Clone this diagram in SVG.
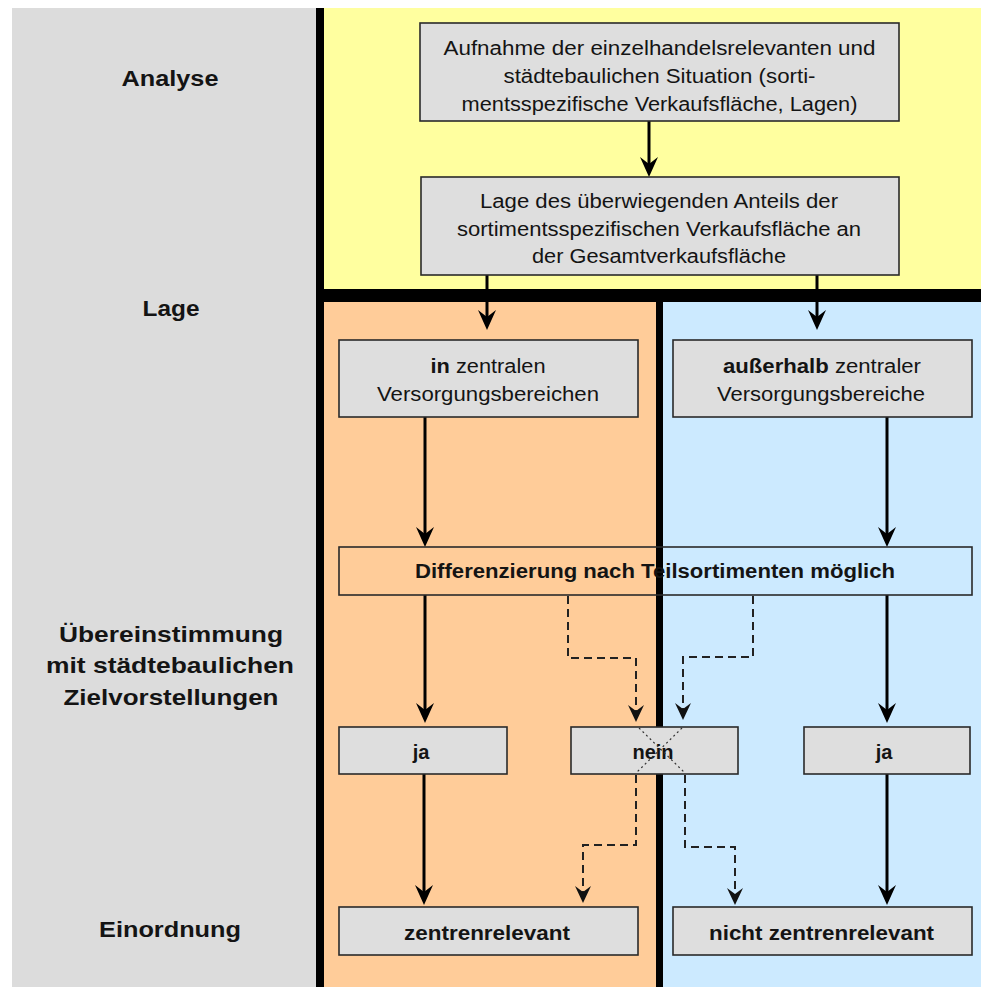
<svg xmlns="http://www.w3.org/2000/svg" width="981" height="987" viewBox="0 0 981 987">
<style>
.bx{fill:#dedede;stroke:#2a2a2a;stroke-width:1.6}
.bo{fill:none;stroke:#2a2a2a;stroke-width:1.6}
.t{font-family:"Liberation Sans",Arial,sans-serif;font-size:20px;fill:#141414;text-anchor:middle}
.b{font-weight:bold}
.lbl{font-family:"Liberation Sans",Arial,sans-serif;font-size:22px;font-weight:bold;fill:#141414;text-anchor:middle}
.s{stroke:#000;stroke-width:3;fill:none;marker-end:url(#ah)}
.d{stroke:#222;stroke-width:2;fill:none;stroke-dasharray:8 5;marker-end:url(#ahd)}
.x{stroke:#333;stroke-width:1.2;fill:none;stroke-dasharray:2 3}
</style>
<defs>
<marker id="ah" markerUnits="userSpaceOnUse" markerWidth="24" markerHeight="24" viewBox="-16 -12 24 24" refX="0" refY="0" orient="auto">
<path d="M6,0 L-14,-9 L-7,0 L-14,9 Z" fill="#000"/>
</marker>
<marker id="ahd" markerUnits="userSpaceOnUse" markerWidth="24" markerHeight="24" viewBox="-16 -12 24 24" refX="0" refY="0" orient="auto">
<path d="M5,0 L-12,-8 L-6,0 L-12,8 Z" fill="#111"/>
</marker>
</defs>

<g id="background">
<rect x="12" y="8" width="304" height="979" fill="#dcdcdc"/>
<rect x="324" y="8" width="657" height="282" fill="#ffff9f"/>
<rect x="324" y="302" width="332" height="685" fill="#ffcc99"/>
<rect x="662" y="302" width="319" height="685" fill="#cceaff"/>
<rect x="316" y="8" width="8" height="979" fill="#000"/>
<rect x="316" y="289" width="665" height="13" fill="#000"/>
<rect x="656" y="302" width="7" height="685" fill="#000"/>
</g>

<g id="labels">
<text class="lbl" x="170" y="86" textLength="97" lengthAdjust="spacingAndGlyphs">Analyse</text>
<text class="lbl" x="171" y="316" textLength="57" lengthAdjust="spacingAndGlyphs">Lage</text>
<text class="lbl" x="171" y="642" textLength="224" lengthAdjust="spacingAndGlyphs">Übereinstimmung</text>
<text class="lbl" x="170" y="673" textLength="248" lengthAdjust="spacingAndGlyphs">mit städtebaulichen</text>
<text class="lbl" x="171" y="705" textLength="215" lengthAdjust="spacingAndGlyphs">Zielvorstellungen</text>
<text class="lbl" x="170" y="937" textLength="142" lengthAdjust="spacingAndGlyphs">Einordnung</text>
</g>

<g id="connectors">
<path class="s" d="M649,121 V171"/>
<path class="s" d="M487,275 V324"/>
<path class="s" d="M817,275 V324"/>
<path class="s" d="M425,417 V541"/>
<path class="s" d="M887,417 V541"/>
<path class="s" d="M425,595 V717"/>
<path class="s" d="M887,595 V717"/>
<path class="s" d="M424,774 V899"/>
<path class="s" d="M887,774 V899"/>
<path class="d" d="M568,596 V658 H636 V717"/>
<path class="d" d="M753,596 V657 H683 V715"/>
<path class="d" d="M636,775 V845 H583 V898"/>
<path class="d" d="M685,775 V847 H735 V900"/>
</g>

<g id="n_aufnahme">
<rect class="bx" x="420" y="23" width="479" height="98"/>
<text class="t" x="659.5" y="55" textLength="432" lengthAdjust="spacingAndGlyphs">Aufnahme der einzelhandelsrelevanten und</text>
<text class="t" x="659.5" y="83" textLength="312" lengthAdjust="spacingAndGlyphs">städtebaulichen Situation (sorti-</text>
<text class="t" x="659.5" y="111" textLength="396" lengthAdjust="spacingAndGlyphs">mentsspezifische Verkaufsfläche, Lagen)</text>
</g>

<g id="n_lage">
<rect class="bx" x="421" y="177" width="478" height="98"/>
<text class="t" x="659" y="208" textLength="358" lengthAdjust="spacingAndGlyphs">Lage des überwiegenden Anteils der</text>
<text class="t" x="659" y="236" textLength="404" lengthAdjust="spacingAndGlyphs">sortimentsspezifischen Verkaufsfläche an</text>
<text class="t" x="659" y="263" textLength="254" lengthAdjust="spacingAndGlyphs">der Gesamtverkaufsfläche</text>
</g>

<g id="n_in">
<rect class="bx" x="339" y="340" width="299" height="77"/>
<text class="t" x="488" y="373" textLength="115" lengthAdjust="spacingAndGlyphs"><tspan class="b">in</tspan> zentralen</text>
<text class="t" x="488" y="401" textLength="222" lengthAdjust="spacingAndGlyphs">Versorgungsbereichen</text>
</g>

<g id="n_ausser">
<rect class="bx" x="673" y="340" width="299" height="77"/>
<text class="t" x="822" y="373" textLength="198" lengthAdjust="spacingAndGlyphs"><tspan class="b">außerhalb</tspan> zentraler</text>
<text class="t" x="821" y="401" textLength="208" lengthAdjust="spacingAndGlyphs">Versorgungsbereiche</text>
</g>

<g id="n_diff">
<rect class="bo" x="339" y="547" width="633" height="48"/>
<text class="t b" x="655" y="578" textLength="480" lengthAdjust="spacingAndGlyphs">Differenzierung nach Teilsortimenten möglich</text>
</g>

<g id="n_ja1">
<rect class="bx" x="339" y="727" width="168" height="47"/>
<text class="t b" x="421" y="759">ja</text>
</g>

<g id="n_nein">
<rect class="bx" x="571" y="727" width="167" height="47"/>
<text class="t b" x="653" y="759">nein</text>
<path class="x" d="M639,728 L685,773 M682,728 L636,773"/>
</g>

<g id="n_ja2">
<rect class="bx" x="804" y="727" width="166" height="47"/>
<text class="t b" x="884" y="759">ja</text>
</g>

<g id="n_zr">
<rect class="bx" x="339" y="907" width="299" height="48"/>
<text class="t b" x="487" y="940" textLength="166" lengthAdjust="spacingAndGlyphs">zentrenrelevant</text>
</g>

<g id="n_nzr">
<rect class="bx" x="673" y="907" width="299" height="48"/>
<text class="t b" x="821.5" y="940" textLength="225" lengthAdjust="spacingAndGlyphs">nicht zentrenrelevant</text>
</g>
</svg>
